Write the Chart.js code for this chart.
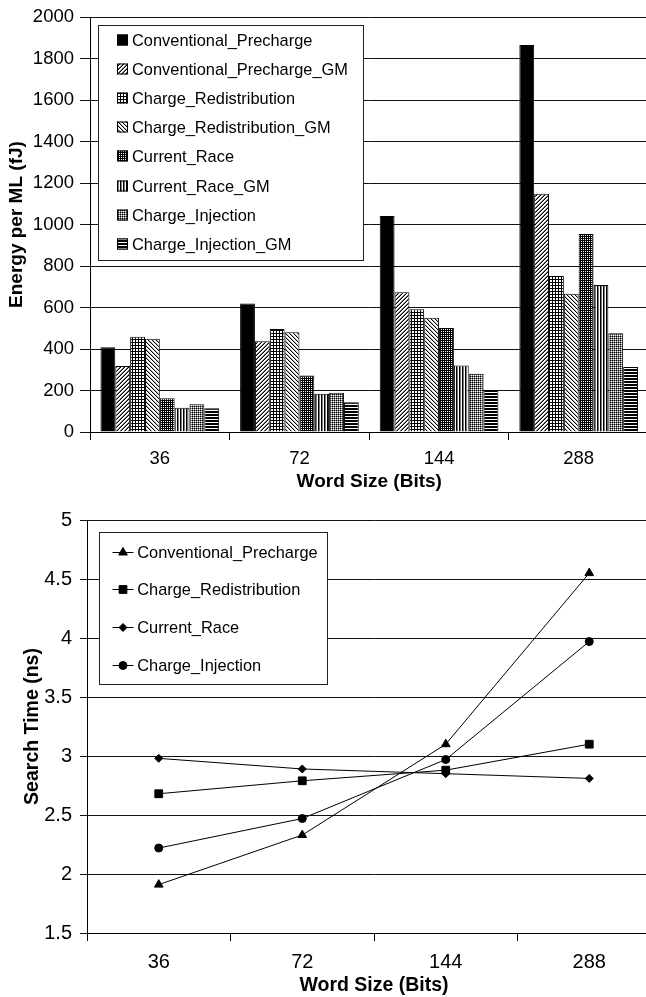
<!DOCTYPE html>
<html>
<head>
<meta charset="utf-8">
<script src="https://cdn.jsdelivr.net/npm/chart.js@4.4.1/dist/chart.umd.min.js"></script>
<style>
  html, body { margin: 0; padding: 0; background: #fff; overflow: hidden; }
  #page { position: relative; width: 646px; height: 997px; overflow: hidden; }
  #energyChart { position: absolute; left: 0; top: 0; }
  #timeChart { position: absolute; left: 0; top: 500px; }
</style>
</head>
<body>
<div id="page">
  <canvas id="energyChart" width="660" height="500"></canvas>
  <canvas id="timeChart" width="670" height="497"></canvas>
</div>
<script>
// word sizes on the x axis (both charts)
var wordSizes = ['36', '72', '144', '288'];

// energy per match line (fJ), one array per scheme
var energyNames = ['Conventional_Precharge', 'Conventional_Precharge_GM', 'Charge_Redistribution',
  'Charge_Redistribution_GM', 'Current_Race', 'Current_Race_GM', 'Charge_Injection', 'Charge_Injection_GM'];
var conventionalPrecharge   = [408, 619, 1041, 1865];
var conventionalPrechargeGM = [318, 438, 674, 1148];
var chargeRedistribution    = [459, 496, 592, 752];
var chargeRedistributionGM  = [449, 481, 551, 667];
var currentRace             = [163, 272, 501, 955];
var currentRaceGM           = [117, 184, 321, 709];
var chargeInjection         = [134, 189, 281, 476];
var chargeInjectionGM       = [114, 144, 203, 313];

// search time (ns)
var timeNames = ['Conventional_Precharge', 'Charge_Redistribution', 'Current_Race', 'Charge_Injection'];
var timeConventional  = [1.91, 2.33, 3.10, 4.55];
var timeRedistribution = [2.68, 2.79, 2.88, 3.10];
var timeCurrentRace   = [2.98, 2.89, 2.85, 2.81];
var timeInjection     = [2.22, 2.47, 2.97, 3.97];

Chart.defaults.font.family = '"Liberation Sans", Arial, sans-serif';
Chart.defaults.color = '#000';

// tiny bitmap fills: '#' black, '+' mid grey, '-' light grey, '.' white
function makePattern(ctx, rows) {
  var c = document.createElement('canvas');
  c.width = rows[0].length; c.height = rows.length;
  var g = c.getContext('2d');
  var cols = { '#': '#000', '+': '#7a7a7a', '-': '#b8b8b8', '.': '#fff' };
  for (var y = 0; y < rows.length; y++) {
    for (var x = 0; x < rows[y].length; x++) {
      g.fillStyle = cols[rows[y][x]];
      g.fillRect(x, y, 1, 1);
    }
  }
  return ctx.createPattern(c, 'repeat');
}

// legend drawn as a boxed list inside the plot area
var boxLegend = {
  id: 'boxLegend',
  afterDraw: function(chart, args, opts) {
    var ctx = chart.ctx, area = chart.chartArea;
    var x0 = Math.round(area.left + opts.dx), y0 = Math.round(area.top + opts.dy);
    ctx.save();
    ctx.fillStyle = '#fff';
    ctx.fillRect(x0, y0, opts.width, opts.height);
    ctx.strokeStyle = '#222';
    ctx.lineWidth = 1;
    ctx.strokeRect(x0 + 0.5, y0 + 0.5, opts.width, opts.height);
    ctx.font = opts.font;
    ctx.textBaseline = 'middle';
    chart.data.datasets.forEach(function(ds, i) {
      var y = Math.round(y0 + opts.firstRow + i * opts.rowGap);
      if (opts.kind === 'bar') {
        var s = opts.swatch;
        ctx.fillStyle = ds.backgroundColor;
        ctx.fillRect(x0 + opts.swatchX, y - s / 2, s, s);
        ctx.strokeStyle = '#000';
        ctx.strokeRect(x0 + opts.swatchX + 0.5, y - s / 2 + 0.5, s - 1, s - 1);
      } else {
        ctx.strokeStyle = '#000';
        ctx.beginPath();
        ctx.moveTo(x0 + opts.lineX1, y + 0.5);
        ctx.lineTo(x0 + opts.lineX2, y + 0.5);
        ctx.stroke();
        ctx.fillStyle = '#000';
        var cx = x0 + (opts.lineX1 + opts.lineX2) / 2;
        if (Chart.helpers && Chart.helpers.drawPoint) {
          Chart.helpers.drawPoint(ctx, { pointStyle: ds.pointStyle, radius: ds.pointRadius, rotation: 0, borderWidth: 1 }, cx, y + 0.5);
        } else {
          ctx.beginPath(); ctx.arc(cx, y + 0.5, 4, 0, Math.PI * 2); ctx.fill();
        }
      }
      ctx.fillStyle = '#000';
      ctx.fillText(ds.label, x0 + opts.textX, y + 1);
    });
    ctx.restore();
  }
};

// ---------- energy bar chart ----------
var ctx1 = document.getElementById('energyChart').getContext('2d');
var fills = [
  '#000',
  makePattern(ctx1, ['..+#', '.+#.', '+#..', '#..+']),
  makePattern(ctx1, ['###', '#..', '#..']),
  makePattern(ctx1, ['#-..', '.#-.', '..#-', '-..#']),
  makePattern(ctx1, ['##', '#.']),
  makePattern(ctx1, ['#+.']),
  makePattern(ctx1, ['#+', '+.']),
  makePattern(ctx1, ['#', '#', '.'])
];
var energySeries = [conventionalPrecharge, conventionalPrechargeGM, chargeRedistribution, chargeRedistributionGM,
  currentRace, currentRaceGM, chargeInjection, chargeInjectionGM];

var energyChart = new Chart(ctx1, {
  type: 'bar',
  data: {
    labels: wordSizes,
    datasets: energySeries.map(function(vals, i) {
      return {
        label: energyNames[i],
        data: vals,
        backgroundColor: fills[i],
        borderColor: '#000',
        borderWidth: 1,
        categoryPercentage: 0.85,
        barPercentage: 1
      };
    })
  },
  options: {
    responsive: false,
    animation: false,
    devicePixelRatio: 1,
    layout: { padding: { top: 14, right: 11.5, bottom: 6.5, left: 0 } },
    plugins: {
      legend: { display: false },
      tooltip: { enabled: false },
      boxLegend: {
        kind: 'bar', dx: 8, dy: 8, width: 265, height: 235,
        firstRow: 15, rowGap: 29.1, swatchX: 19, swatch: 11, textX: 34,
        font: '16.4px "Liberation Sans", Arial, sans-serif'
      }
    },
    scales: {
      x: {
        grid: { drawOnChartArea: false, drawTicks: true, tickLength: 8, color: '#000', offset: true },
        border: { color: '#000', width: 1 },
        ticks: { font: { size: 18.5 }, color: '#000', padding: 8 },
        title: { display: true, text: 'Word Size (Bits)', color: '#000', font: { size: 19, weight: 'bold' }, padding: { top: 0, bottom: 0 } },
        afterFit: function(s) { s.height = 61.5; }
      },
      y: {
        min: 0, max: 2000,
        grid: { color: '#111', tickLength: 10 },
        border: { color: '#000', width: 1 },
        ticks: { stepSize: 200, font: { size: 18.5 }, color: '#000', padding: 6, callback: function(v) { return String(v); } },
        title: { display: true, text: 'Energy per ML (fJ)', color: '#000', font: { size: 19, weight: 'bold' }, padding: { top: 5.6, bottom: 0 } },
        afterFit: function(s) { s.width = 90; }
      }
    }
  },
  plugins: [boxLegend]
});

// ---------- search time line chart ----------
var ctx2 = document.getElementById('timeChart').getContext('2d');
var timeSeries = [timeConventional, timeRedistribution, timeCurrentRace, timeInjection];
var markers = ['triangle', 'rect', 'rectRot', 'circle'];
var markerSize = [5, 5.5, 4, 4];

var timeChart = new Chart(ctx2, {
  type: 'line',
  data: {
    labels: wordSizes,
    datasets: timeSeries.map(function(vals, i) {
      return {
        label: timeNames[i],
        data: vals,
        borderColor: '#000',
        backgroundColor: '#000',
        borderWidth: 1,
        pointStyle: markers[i],
        pointRadius: markerSize[i],
        pointBackgroundColor: '#000',
        pointBorderColor: '#000',
        pointBorderWidth: 1,
        tension: 0,
        fill: false
      };
    })
  },
  options: {
    responsive: false,
    animation: false,
    devicePixelRatio: 1,
    layout: { padding: { top: 19, right: 9, bottom: 0, left: 0 } },
    plugins: {
      legend: { display: false },
      tooltip: { enabled: false },
      boxLegend: {
        kind: 'line', dx: 11.5, dy: 11.5, width: 228, height: 152,
        firstRow: 19.5, rowGap: 37.9, lineX1: 13.5, lineX2: 34.5, textX: 38.2,
        font: '16.4px "Liberation Sans", Arial, sans-serif'
      }
    },
    scales: {
      x: {
        offset: true,
        grid: { drawOnChartArea: false, drawTicks: true, tickLength: 8, color: '#000', offset: true },
        border: { color: '#000', width: 1 },
        ticks: { font: { size: 20 }, color: '#000', padding: 9 },
        title: { display: true, text: 'Word Size (Bits)', color: '#000', font: { size: 19.5, weight: 'bold' }, padding: { top: 0, bottom: 0 } },
        afterFit: function(s) { s.height = 64; }
      },
      y: {
        min: 1.5, max: 5,
        grid: { color: '#111', tickLength: 7 },
        border: { color: '#000', width: 1 },
        ticks: { stepSize: 0.5, font: { size: 20 }, color: '#000', padding: 8, callback: function(v) { return String(v); } },
        title: { display: true, text: 'Search Time (ns)', color: '#000', font: { size: 19.5, weight: 'bold' }, padding: { top: 21.3, bottom: 0 } },
        afterFit: function(s) { s.width = 87; }
      }
    }
  },
  plugins: [boxLegend]
});
</script>
</body>
</html>
